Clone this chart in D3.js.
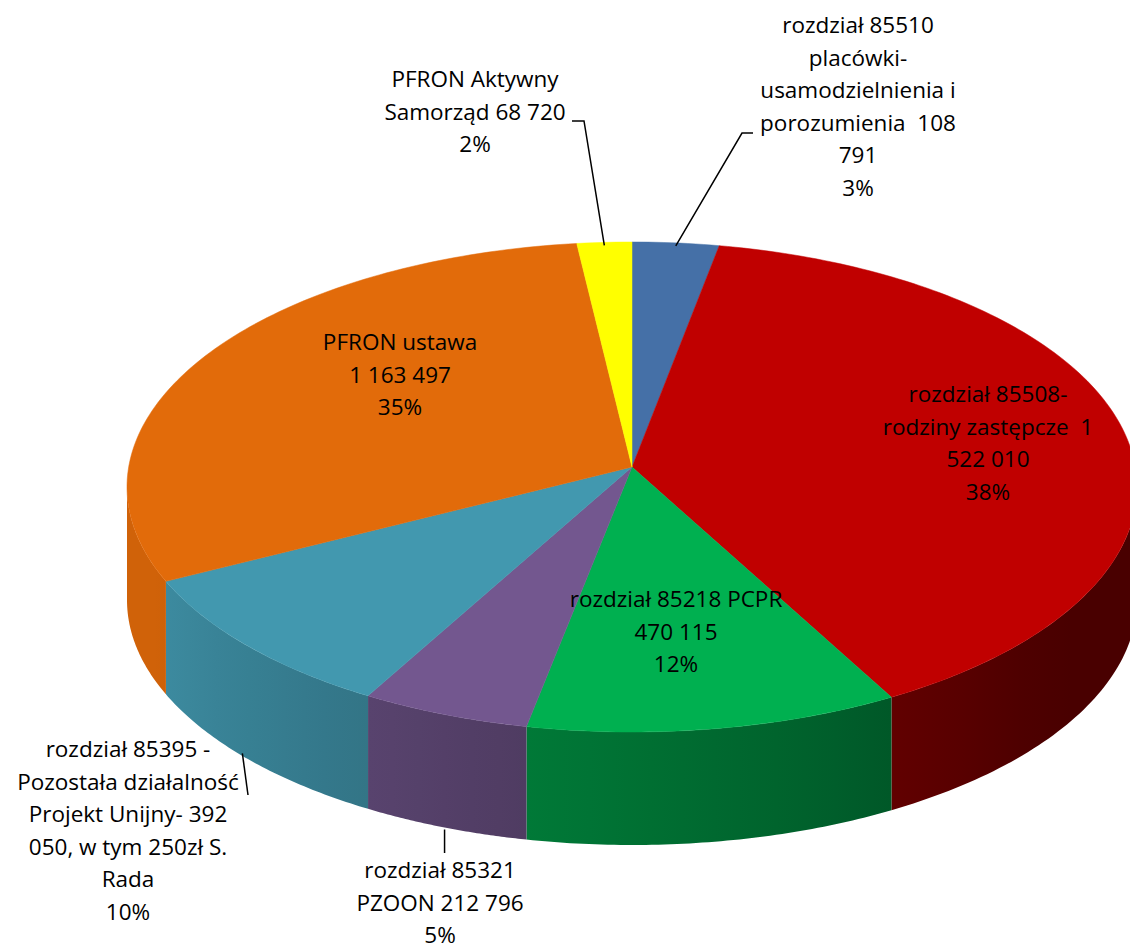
<!DOCTYPE html>
<html>
<head>
<meta charset="utf-8">
<script src="https://cdn.jsdelivr.net/npm/d3@7"></script>
<style>
  body { margin: 0; background: #fff; }
  text { font-family: "Open Sans", Lato, sans-serif; font-size: 22.5px; fill: #000; white-space: pre; }
</style>
</head>
<body>
<div id="chart"></div>
<script>
// slices, clockwise from 12 o'clock
var names = ["85510", "85508", "85218", "85321", "85395", "PFRON ustawa", "PFRON Aktywny"];
var values = [108791, 1522010, 470115, 212796, 392050, 1163497, 68720];
var percents = ["3%", "38%", "12%", "5%", "10%", "35%", "2%"];
var labelLines = [
  ["rozdział 85510", "placówki-", "usamodzielnienia i", "porozumienia  108", "791"],
  ["rozdział 85508-", "rodziny zastępcze  1", "522 010"],
  ["rozdział 85218 PCPR", "470 115"],
  ["rozdział 85321", "PZOON 212 796"],
  ["rozdział 85395 -", "Pozostała działalność", "Projekt Unijny- 392", "050, w tym 250zł S.", "Rada"],
  ["PFRON ustawa", "1 163 497"],
  ["PFRON Aktywny", "Samorząd 68 720"]
];
var colors = ["#4570a7", "#c00000", "#00b050", "#73578f", "#4298af", "#e26b0a", "#ffff00"];

// layout (centre of first text line)
var labelPos = [[858, 26], [988, 395], [676, 600], [440, 871], [128, 750], [400, 343], [475, 80]];
var lineStep = 32.5;

var W = 1130, H = 950;
var cx = 632, cy = 487, rx = 505, ry = 245, depth = 113, apexLift = 20;

var svg = d3.select("#chart").append("svg")
  .attr("width", W).attr("height", H);

var pie = d3.pie().sort(null).value(function(d){ return d; });
var arcs = pie(values);

function rim(a, dy) {
  return [cx + rx * Math.sin(a), cy - ry * Math.cos(a) + (dy || 0)];
}

// brightness of the side wall, brighter towards the left
function shade(a) {
  var deg = a * 180 / Math.PI;
  var u = Math.max(0, Math.min(1, (deg - 125) / 125));
  return 0.38 + 0.54 * Math.pow(u, 0.9);
}
function darker(col, k) {
  var c = d3.rgb(col);
  return d3.rgb(c.r * k, c.g * k, c.b * k).toString();
}

var defs = svg.append("defs");
var line = d3.line();

// side walls (front half only)
arcs.forEach(function(d, i) {
  var a0 = Math.max(d.startAngle, Math.PI / 2);
  var a1 = Math.min(d.endAngle, 3 * Math.PI / 2);
  if (a1 <= a0) return;
  var n = 60, top = [], bot = [];
  for (var j = 0; j <= n; j++) {
    var a = a0 + (a1 - a0) * j / n;
    top.push(rim(a));
    bot.push(rim(a, depth));
  }
  var x0 = rim(a0)[0], x1 = rim(a1)[0];
  var g = defs.append("linearGradient")
    .attr("id", "wall" + i)
    .attr("gradientUnits", "userSpaceOnUse")
    .attr("x1", x0).attr("x2", x1).attr("y1", 0).attr("y2", 0);
  for (var s = 0; s <= 6; s++) {
    var a = a0 + (a1 - a0) * s / 6;
    var off = (x1 === x0) ? s / 6 : (rim(a)[0] - x0) / (x1 - x0);
    g.append("stop").attr("offset", off).attr("stop-color", darker(colors[i], shade(a)));
  }
  svg.append("path")
    .attr("d", line(top.concat(bot.reverse())) + "Z")
    .attr("fill", "url(#wall" + i + ")");
});

// top faces
arcs.forEach(function(d, i) {
  var n = Math.max(4, Math.ceil((d.endAngle - d.startAngle) * 60));
  var pts = [[cx, cy - apexLift]];
  for (var j = 0; j <= n; j++) {
    pts.push(rim(d.startAngle + (d.endAngle - d.startAngle) * j / n));
  }
  svg.append("path")
    .attr("d", line(pts) + "Z")
    .attr("fill", colors[i])
    .attr("stroke", colors[i])
    .attr("stroke-width", 0.5);
});

// leader lines
function mid(d) { return (d.startAngle + d.endAngle) / 2; }
var tealStart = rim(mid(arcs[4]), depth - 6);
var leaders = [
  [[753, 133], [742, 133], rim(mid(arcs[0]), 3)],
  [[572, 121], [584, 121], rim(mid(arcs[6]), 3)],
  [rim(mid(arcs[3]), depth + 2), [rim(mid(arcs[3]))[0], 853]],
  [[tealStart[0] - 6, tealStart[1]], [248, 795]]
];
leaders.forEach(function(p) {
  svg.append("path").attr("d", line(p))
    .attr("fill", "none").attr("stroke", "#000").attr("stroke-width", 1.5);
});

// data labels
arcs.forEach(function(d, i) {
  var lines = labelLines[i].concat([percents[i]]);
  var t = svg.append("text")
    .attr("text-anchor", "middle");
  lines.forEach(function(s, k) {
    t.append("tspan")
      .attr("x", labelPos[i][0])
      .attr("y", labelPos[i][1] + k * lineStep + 7)
      .text(s);
  });
});
</script>
</body>
</html>
